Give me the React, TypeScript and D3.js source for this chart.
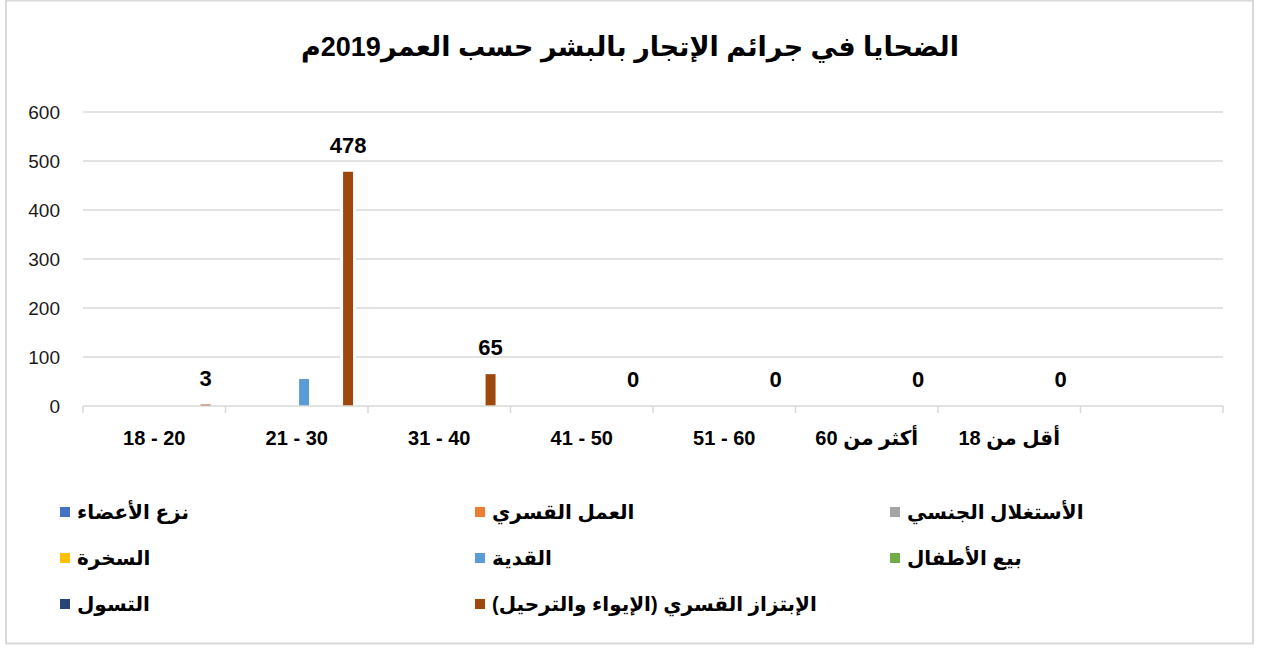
import React from "react";
import * as d3 from "d3";

const categories = ["18 - 20", "21 - 30", "31 - 40", "41 - 50", "51 - 60", "أكثر من 60", "أقل من 18", ""];

const seriesNames = [
  "نزع الأعضاء",
  "العمل القسري",
  "الأستغلال الجنسي",
  "السخرة",
  "القدية",
  "بيع الأطفال",
  "التسول",
  "الإبتزاز القسري (الإيواء والترحيل)",
];

const seriesColors = ["#4472C4", "#ED7D31", "#A5A5A5", "#FFC000", "#5B9BD5", "#70AD47", "#264478", "#9E480E"];

const organRemoval = [0, 0, 0, 0, 0, 0, 0, null];
const forcedLabor = [0, 0, 0, 0, 0, 0, 0, null];
const sexualExploitation = [0, 0, 0, 0, 0, 0, 0, null];
const servitude = [0, 0, 0, 0, 0, 0, 0, null];
const ransom = [0, 55, 0, 0, 0, 0, 0, null];
const childSale = [0, 0, 0, 0, 0, 0, 0, null];
const begging = [0, 0, 0, 0, 0, 0, 0, null];
const forcedExtortion = [3, 478, 65, 0, 0, 0, 0, null];

const seriesValues = [organRemoval, forcedLabor, sexualExploitation, servitude, ransom, childSale, begging, forcedExtortion];
const labeledSeries = 7;

const yTicks = [0, 100, 200, 300, 400, 500, 600];

const title = "الضحايا في جرائم الإتجار بالبشر حسب العمر2019م";

const W = 1261;
const H = 650;
const plotLeft = 83;
const plotRight = 1223;
const plotTop = 112;
const plotBottom = 406;

const grid = "#d9d9d9";
const font = "'Liberation Sans', 'DejaVu Sans', sans-serif";

export default function App() {
  const x = d3.scaleBand<string>().domain(categories.map((_, i) => String(i))).range([plotLeft, plotRight]).padding(0);
  const inner = d3
    .scaleBand<string>()
    .domain(seriesNames.map((_, i) => String(i)))
    .range([0, x.bandwidth()])
    .paddingInner(0.32)
    .paddingOuter(1.02);
  const y = d3.scaleLinear().domain([0, 600]).range([plotBottom, plotTop]);

  const legendCols = [60, 475, 890];
  const legendRows = [512, 558, 604];

  const bars: { s: number; c: number; v: number }[] = [];
  seriesValues.forEach((vals, s) =>
    vals.forEach((v, c) => {
      if (v != null && v !== 0) bars.push({ s, c, v });
    })
  );
  const barX = (b: { s: number; c: number }) => (x(String(b.c)) as number) + (inner(String(b.s)) as number);

  return (
    <svg width={W} height={H} style={{ position: "absolute", left: 0, top: 0, background: "#fff" }} fontFamily={font}>
      <rect x={0} y={0} width={W} height={H} fill="#fff" />
      <rect x={6} y={0.5} width={1247} height={643} fill="none" stroke={grid} strokeWidth={2} />

      <text x={630} y={47} textAnchor="middle" dominantBaseline="central" fontSize={27} fontWeight="bold" fill="#000">
        {title}
      </text>

      {yTicks.map((t) => (
        <g key={t}>
          {t > 0 && <line x1={plotLeft} x2={plotRight} y1={y(t)} y2={y(t)} stroke={grid} strokeWidth={1.5} />}
          <text x={60} y={y(t)} textAnchor="end" dominantBaseline="central" fontSize={19} fill="#1a1a1a">
            {t}
          </text>
        </g>
      ))}

      {bars.map((b) => (
        <rect
          key={`bg-${b.s}-${b.c}`}
          x={barX(b) - 3}
          y={y(b.v) - 1}
          width={inner.bandwidth() + 6}
          height={y(0) - y(b.v)}
          fill="#fff"
        />
      ))}
      {bars.map((b) => (
        <rect
          key={`${b.s}-${b.c}`}
          x={barX(b)}
          y={y(b.v)}
          width={inner.bandwidth()}
          height={y(0) - y(b.v)}
          fill={seriesColors[b.s]}
        />
      ))}

      <line x1={plotLeft} x2={plotRight} y1={y(0)} y2={y(0)} stroke={grid} strokeWidth={1.5} />
      {d3.range(categories.length + 1).map((i) => {
        const tx = plotLeft + i * x.step();
        return <line key={i} x1={tx} x2={tx} y1={y(0)} y2={y(0) + 7} stroke={grid} strokeWidth={1.5} />;
      })}

      {categories.map((c, i) => (
        <text
          key={i}
          x={(x(String(i)) as number) + x.bandwidth() / 2}
          y={438}
          textAnchor="middle"
          dominantBaseline="central"
          fontSize={20}
          fontWeight="bold"
          fill="#000"
        >
          {c}
        </text>
      ))}

      {seriesValues[labeledSeries].map((v, c) =>
        v == null ? null : (
          <text
            key={c}
            x={(x(String(c)) as number) + (inner(String(labeledSeries)) as number) + inner.bandwidth() / 2}
            y={y(v) - 19}
            textAnchor="middle"
            fontSize={22}
            fontWeight="bold"
            fill="#000"
          >
            {v}
          </text>
        )
      )}

      {seriesNames.map((name, i) => {
        const col = i % 3;
        const row = Math.floor(i / 3);
        const lx = legendCols[col];
        const ly = legendRows[row];
        return (
          <g key={name}>
            <rect x={lx} y={ly - 5} width={10} height={10} fill={seriesColors[i]} />
            <text x={lx + 17} y={ly} dominantBaseline="central" fontSize={20} fontWeight="bold" fill="#000">
              {name}
            </text>
          </g>
        );
      })}
    </svg>
  );
}
